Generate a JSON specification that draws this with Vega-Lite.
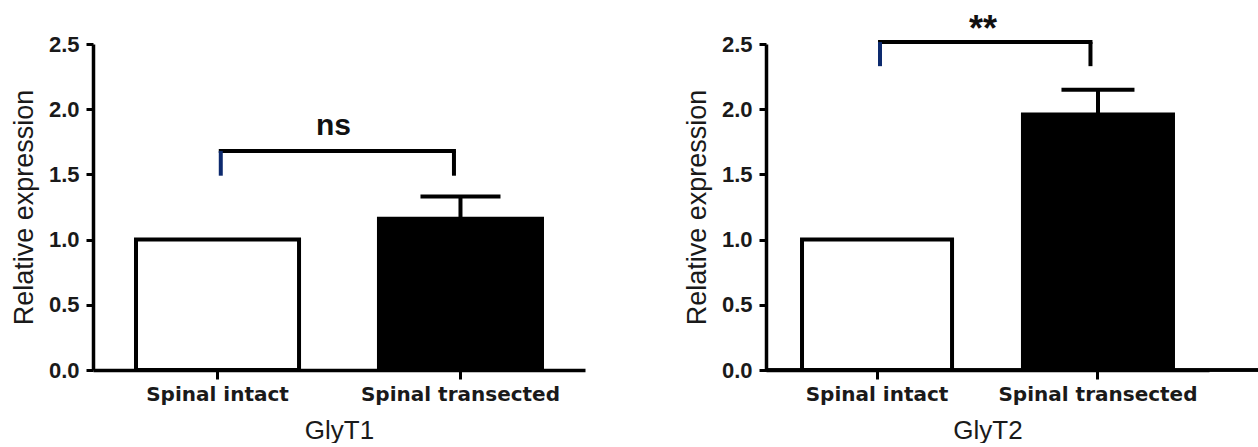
{
  "$schema": "https://vega.github.io/schema/vega-lite/v6.json",
  "autosize": {"type": "pad"},
  "padding": {"left": 10, "top": 12, "right": 0, "bottom": 0},
  "background": "white",
  "bounds": "flush",
  "spacing": 181,
  "config": {
    "view": {"stroke": null},
    "axisX": {
      "domainColor": "black", "domainWidth": 3.5, "tickColor": "black", "tickWidth": 3, "tickSize": 9,
      "labelFont": "DejaVu Sans", "labelFontWeight": "bold", "labelFontSize": 20, "labelColor": "#1a1a1a",
      "labelPadding": 5, "labelAngle": 0, "labelLimit": 0,
      "titleFont": "Liberation Sans", "titleFontSize": 26, "titleFontWeight": "normal", "titleColor": "#1a1a1a",
      "titlePadding": 13, "grid": false
    },
    "axisY": {
      "domainColor": "black", "domainWidth": 3.5, "tickColor": "black", "tickWidth": 3, "tickSize": 7,
      "labelFont": "Liberation Sans", "labelFontWeight": "bold", "labelFontSize": 22, "labelColor": "#1a1a1a",
      "labelPadding": 7,
      "titleFont": "Liberation Sans", "titleFontSize": 27, "titleFontWeight": "normal", "titleColor": "#1a1a1a",
      "titlePadding": 10, "grid": false
    }
  },
  "datasets": {
    "bars": [
      {"gene": "GlyT1", "group": "Spinal intact", "mean": 1.0, "upper": null},
      {"gene": "GlyT1", "group": "Spinal transected", "mean": 1.16, "upper": 1.33},
      {"gene": "GlyT2", "group": "Spinal intact", "mean": 1.0, "upper": null},
      {"gene": "GlyT2", "group": "Spinal transected", "mean": 1.96, "upper": 2.15}
    ],
    "brackets": [
      {"gene": "GlyT1", "from": "Spinal intact", "to": "Spinal transected", "top": 1.68, "bottom": 1.49, "label": "ns", "label_y": 1.8},
      {"gene": "GlyT2", "from": "Spinal intact", "to": "Spinal transected", "top": 2.515, "bottom": 2.33, "label": "**", "label_y": 2.52}
    ]
  },
  "hconcat": [
    {
      "width": 492,
      "height": 326,
      "layer": [
        {
          "data": {"name": "bars"},
          "transform": [{"filter": "datum.gene === 'GlyT1'"}],
          "mark": {"type": "bar", "stroke": "black", "strokeWidth": 4},
          "encoding": {
            "x": {"field": "group", "type": "nominal", "title": "GlyT1",
                  "scale": {"domain": ["Spinal intact", "Spinal transected"], "paddingInner": 0.329, "paddingOuter": 0.177}},
            "y": {"field": "mean", "type": "quantitative", "title": "Relative expression", "scale": {"domain": [0, 2.5], "nice": false},
                  "axis": {"values": [0, 0.5, 1, 1.5, 2, 2.5], "format": ".1f"}},
            "fill": {"field": "group", "type": "nominal", "scale": {"domain": ["Spinal intact", "Spinal transected"], "range": ["white", "black"]}, "legend": null}
          }
        },
        {
          "data": {"name": "bars"},
          "transform": [{"filter": "datum.gene === 'GlyT1' && isValid(datum.upper)"}],
          "mark": {"type": "rule", "color": "black", "strokeWidth": 4},
          "encoding": {
            "x": {"field": "group", "type": "nominal", "title": "GlyT1"},
            "y": {"field": "mean", "type": "quantitative", "title": "Relative expression"},
            "y2": {"field": "upper"}
          }
        },
        {
          "data": {"name": "bars"},
          "transform": [{"filter": "datum.gene === 'GlyT1' && isValid(datum.upper)"}],
          "mark": {"type": "tick", "color": "black", "size": 80, "thickness": 4, "opacity": 1},
          "encoding": {
            "x": {"field": "group", "type": "nominal", "title": "GlyT1"},
            "y": {"field": "upper", "type": "quantitative", "title": "Relative expression"}
          }
        },
        {
          "data": {"name": "brackets"},
          "transform": [{"filter": "datum.gene === 'GlyT1'"}],
          "mark": {"type": "rule", "color": "black", "strokeWidth": 4, "strokeCap": "square"},
          "encoding": {
            "x": {"field": "from", "type": "nominal", "title": "GlyT1", "bandPosition": 0.52},
            "x2": {"field": "to", "bandPosition": 0.46},
            "y": {"field": "top", "type": "quantitative", "title": "Relative expression"}
          }
        },
        {
          "data": {"name": "brackets"},
          "transform": [{"filter": "datum.gene === 'GlyT1'"}],
          "mark": {"type": "rule", "color": "#0d2a6e", "strokeWidth": 4},
          "encoding": {
            "x": {"field": "from", "type": "nominal", "title": "GlyT1", "bandPosition": 0.52},
            "y": {"field": "bottom", "type": "quantitative", "title": "Relative expression"},
            "y2": {"field": "top"}
          }
        },
        {
          "data": {"name": "brackets"},
          "transform": [{"filter": "datum.gene === 'GlyT1'"}],
          "mark": {"type": "rule", "color": "black", "strokeWidth": 4},
          "encoding": {
            "x": {"field": "to", "type": "nominal", "title": "GlyT1", "bandPosition": 0.46},
            "y": {"field": "bottom", "type": "quantitative", "title": "Relative expression"},
            "y2": {"field": "top"}
          }
        },
        {
          "data": {"name": "brackets"},
          "transform": [{"filter": "datum.gene === 'GlyT1'"}],
          "mark": {"type": "text", "font": "Liberation Sans", "fontWeight": "bold", "fontSize": 30, "color": "#111", "baseline": "alphabetic", "align": "center", "dx": 116},
          "encoding": {
            "x": {"field": "from", "type": "nominal", "title": "GlyT1"},
            "y": {"field": "label_y", "type": "quantitative", "title": "Relative expression"},
            "text": {"field": "label"}
          }
        }
      ]
    },
    {
      "width": 493,
      "height": 326,
      "layer": [
        {
          "data": {"name": "bars"},
          "transform": [{"filter": "datum.gene === 'GlyT2'"}],
          "mark": {"type": "bar", "stroke": "black", "strokeWidth": 4},
          "encoding": {
            "x": {"field": "group", "type": "nominal", "title": "GlyT2",
                  "scale": {"domain": ["Spinal intact", "Spinal transected"], "range": [0, 443], "paddingInner": 0.321, "paddingOuter": 0.163}},
            "y": {"field": "mean", "type": "quantitative", "title": "Relative expression", "scale": {"domain": [0, 2.5], "nice": false},
                  "axis": {"values": [0, 0.5, 1, 1.5, 2, 2.5], "format": ".1f"}},
            "fill": {"field": "group", "type": "nominal", "scale": {"domain": ["Spinal intact", "Spinal transected"], "range": ["white", "black"]}, "legend": null}
          }
        },
        {
          "data": {"name": "bars"},
          "transform": [{"filter": "datum.gene === 'GlyT2'"}],
          "mark": {"type": "rule", "color": "black", "strokeWidth": 3.5},
          "encoding": {
            "y": {"datum": 0}
          }
        },
        {
          "data": {"name": "bars"},
          "transform": [{"filter": "datum.gene === 'GlyT2' && isValid(datum.upper)"}],
          "mark": {"type": "rule", "color": "black", "strokeWidth": 4},
          "encoding": {
            "x": {"field": "group", "type": "nominal", "title": "GlyT2"},
            "y": {"field": "mean", "type": "quantitative", "title": "Relative expression"},
            "y2": {"field": "upper"}
          }
        },
        {
          "data": {"name": "bars"},
          "transform": [{"filter": "datum.gene === 'GlyT2' && isValid(datum.upper)"}],
          "mark": {"type": "tick", "color": "black", "size": 73, "thickness": 4, "opacity": 1},
          "encoding": {
            "x": {"field": "group", "type": "nominal", "title": "GlyT2"},
            "y": {"field": "upper", "type": "quantitative", "title": "Relative expression"}
          }
        },
        {
          "data": {"name": "brackets"},
          "transform": [{"filter": "datum.gene === 'GlyT2'"}],
          "mark": {"type": "rule", "color": "black", "strokeWidth": 4, "strokeCap": "square"},
          "encoding": {
            "x": {"field": "from", "type": "nominal", "title": "GlyT2", "bandPosition": 0.52},
            "x2": {"field": "to", "bandPosition": 0.45},
            "y": {"field": "top", "type": "quantitative", "title": "Relative expression"}
          }
        },
        {
          "data": {"name": "brackets"},
          "transform": [{"filter": "datum.gene === 'GlyT2'"}],
          "mark": {"type": "rule", "color": "#0d2a6e", "strokeWidth": 4},
          "encoding": {
            "x": {"field": "from", "type": "nominal", "title": "GlyT2", "bandPosition": 0.52},
            "y": {"field": "bottom", "type": "quantitative", "title": "Relative expression"},
            "y2": {"field": "top"}
          }
        },
        {
          "data": {"name": "brackets"},
          "transform": [{"filter": "datum.gene === 'GlyT2'"}],
          "mark": {"type": "rule", "color": "black", "strokeWidth": 4},
          "encoding": {
            "x": {"field": "to", "type": "nominal", "title": "GlyT2", "bandPosition": 0.45},
            "y": {"field": "bottom", "type": "quantitative", "title": "Relative expression"},
            "y2": {"field": "top"}
          }
        },
        {
          "data": {"name": "brackets"},
          "transform": [{"filter": "datum.gene === 'GlyT2'"}],
          "mark": {"type": "text", "font": "Liberation Sans", "fontWeight": "bold", "fontSize": 36, "color": "#111", "baseline": "alphabetic", "align": "center", "dx": 106},
          "encoding": {
            "x": {"field": "from", "type": "nominal", "title": "GlyT2"},
            "y": {"field": "label_y", "type": "quantitative", "title": "Relative expression"},
            "text": {"field": "label"}
          }
        }
      ]
    }
  ]
}
